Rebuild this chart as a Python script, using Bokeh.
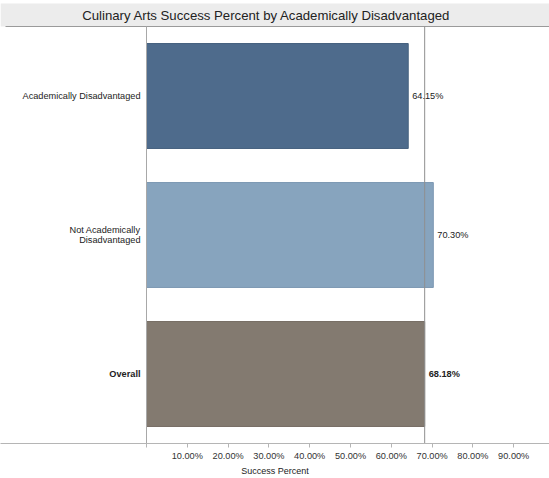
from bokeh.plotting import figure
from bokeh.models import FixedTicker, NumeralTickFormatter, ColumnDataSource
from bokeh.core.properties import value
from bokeh.embed import file_html
from bokeh.resources import INLINE

# ---- data ----
categories = ["Academically Disadvantaged", "Not Academically\nDisadvantaged", "Overall"]
success = [0.6415, 0.7030, 0.6818]
value_labels = ["64.15%", "70.30%", "68.18%"]
bar_colors = ["#4e6b8c", "#87a4be", "#837a70"]
edge_colors = ["#46617f", "#7d99b3", "#776e65"]
label_styles = ["normal", "normal", "bold"]
tick_values = [0.1, 0.2, 0.3, 0.4, 0.5, 0.6, 0.7, 0.8, 0.9]
title_text = "Culinary Arts Success Percent by Academically Disadvantaged"
axis_title = "Success Percent"
reference_value = success[2]

# ---- layout (pixels) ----
W, H = 549, 478
border_bottom = 35
frame_h = H - border_bottom
title_band_px = 26
band_px = (frame_h - title_band_px) / 3.0
px_per_unit = 408.0
zero_px = 146.0
x_start = -zero_px / px_per_unit
x_end = (W - zero_px) / px_per_unit
n = len(categories)
y_top_bars = n
y_end = n + title_band_px / band_px

p = figure(width=W, height=H, output_backend="svg", toolbar_location=None,
           x_range=(x_start, x_end), y_range=(0, y_end),
           y_axis_location=None, min_border_left=0, min_border_right=0,
           min_border_top=0, min_border_bottom=border_bottom)
p.grid.visible = False
p.outline_line_color = None
p.background_fill_color = "white"
p.border_fill_color = "white"

centers = [n - i - 0.5 for i in range(n)]
src = ColumnDataSource(dict(y=centers, right=success, color=bar_colors, edge=edge_colors,
                            cat=categories, lab=value_labels, style=label_styles))

# title bar
p.quad(left=[x_start], right=[x_end], bottom=[y_top_bars], top=[y_end - 3 / band_px],
       fill_color="#ececec", line_color=None)
p.segment(x0=[x_start + 5 / px_per_unit], x1=[x_end], y0=[y_top_bars], y1=[y_top_bars],
          line_color="#9a9a9a", line_width=1)
title_x = (266 - zero_px) / px_per_unit
p.text(x=[title_x], y=[y_top_bars + 11 / band_px], text=[title_text],
       text_font=value("Liberation Sans"), text_font_size="13.2px",
       text_color="#222222", text_align="center", text_baseline="middle")

# bars
p.hbar(y="y", left=0, right="right", height=0.755, source=src,
       fill_color="color", line_color="edge", line_width=1)

# left baseline and reference line
p.segment(x0=[0], x1=[0], y0=[0], y1=[y_top_bars], line_color="#a8a8a8", line_width=1)
p.segment(x0=[reference_value], x1=[reference_value], y0=[0], y1=[y_top_bars],
          line_color="#8f8f8f", line_width=1)

# category labels
p.text(x=0, y="y", text="cat", source=src, x_offset=-6,
       text_font=value("Liberation Sans"), text_font_size="9.2px",
       text_font_style="style", text_color="#222222",
       text_align="right", text_baseline="middle", text_line_height=1.05)

# value labels
p.text(x="right", y="y", text="lab", source=src, x_offset=4,
       text_font=value("Liberation Sans"), text_font_size="9.2px",
       text_font_style="style", text_color="#222222",
       text_align="left", text_baseline="middle")

# x axis
ax = p.xaxis[0]
ax.ticker = FixedTicker(ticks=tick_values, minor_ticks=[0.0])
ax.formatter = NumeralTickFormatter(format="0.00%")
ax.axis_label = axis_title
ax.axis_label_text_font = "Liberation Sans"
ax.axis_label_text_font_size = "9px"
ax.axis_label_text_font_style = "normal"
ax.axis_label_text_color = "#222222"
ax.axis_label_standoff = 2
ax.major_label_text_font = "Liberation Sans"
ax.major_label_text_font_size = "9.2px"
ax.major_label_text_color = "#333333"
ax.major_label_standoff = 3
ax.axis_line_color = "#b5b5b5"
ax.major_tick_in = 0
ax.major_tick_out = 4
ax.minor_tick_in = 0
ax.minor_tick_out = 4
ax.major_tick_line_color = "#b5b5b5"
ax.minor_tick_line_color = "#b5b5b5"

open("out.html", "w").write(file_html(p, INLINE))
